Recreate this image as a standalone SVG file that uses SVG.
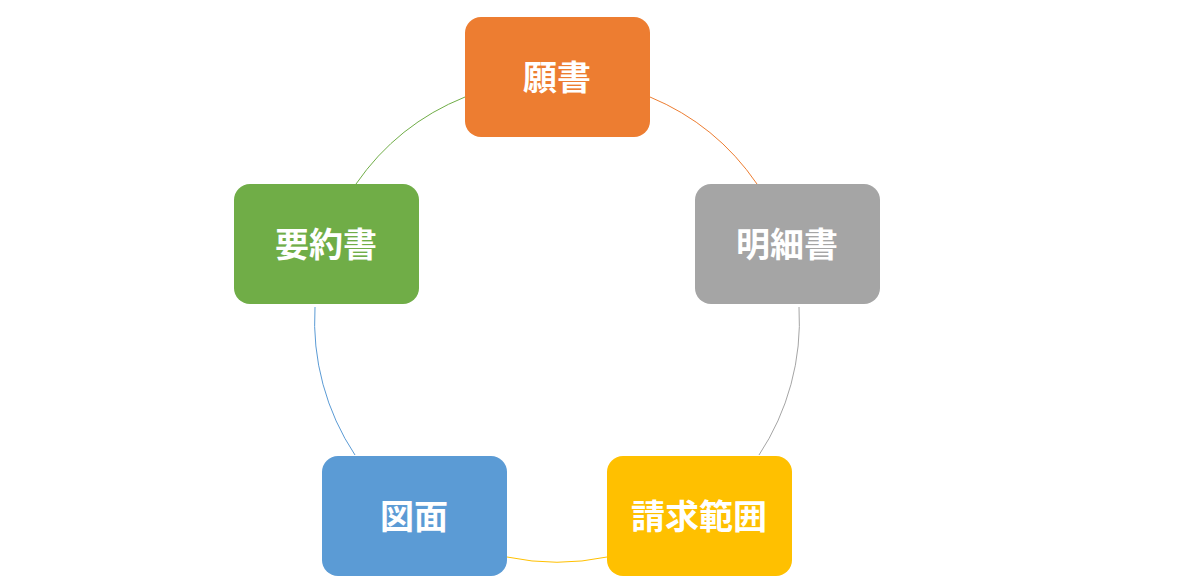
<svg xmlns="http://www.w3.org/2000/svg" width="1180" height="585" viewBox="0 0 1180 585">
<style>
.n{stroke:none}
.t{font-family:"Noto Sans CJK JP","Noto Sans CJK SC",sans-serif;font-weight:bold;font-size:34px;fill:#fff;text-anchor:middle;dominant-baseline:central}
.c{fill:none;stroke-width:1}
</style>
<rect width="1180" height="585" fill="#fff"/>
<g id="connectors">
<path class="c" stroke="#ED7D31" d="M650,97 A242,242 0 0 1 757,184"/>
<path class="c" stroke="#A5A5A5" d="M799,307 A242,242 0 0 1 759,455"/>
<path class="c" stroke="#FFC000" d="M607,557 A242,242 0 0 1 507,557"/>
<path class="c" stroke="#5B9BD5" d="M355,455 A242,242 0 0 1 315,307"/>
<path class="c" stroke="#70AD47" d="M356,184 A242,242 0 0 1 465,97"/>
</g>
<g id="n1"><rect class="n" x="465" y="17" width="185" height="120" rx="16" fill="#ED7D31"/><text class="t" x="557" y="75">願書</text></g>
<g id="n2"><rect class="n" x="695" y="184" width="185" height="120" rx="16" fill="#A5A5A5"/><text class="t" x="787" y="242">明細書</text></g>
<g id="n3"><rect class="n" x="607" y="456" width="185" height="120" rx="16" fill="#FFC000"/><text class="t" x="699" y="514">請求範囲</text></g>
<g id="n4"><rect class="n" x="322" y="456" width="185" height="120" rx="16" fill="#5B9BD5"/><text class="t" x="414" y="514">図面</text></g>
<g id="n5"><rect class="n" x="234" y="184" width="185" height="120" rx="16" fill="#70AD47"/><text class="t" x="326" y="242">要約書</text></g>
</svg>
